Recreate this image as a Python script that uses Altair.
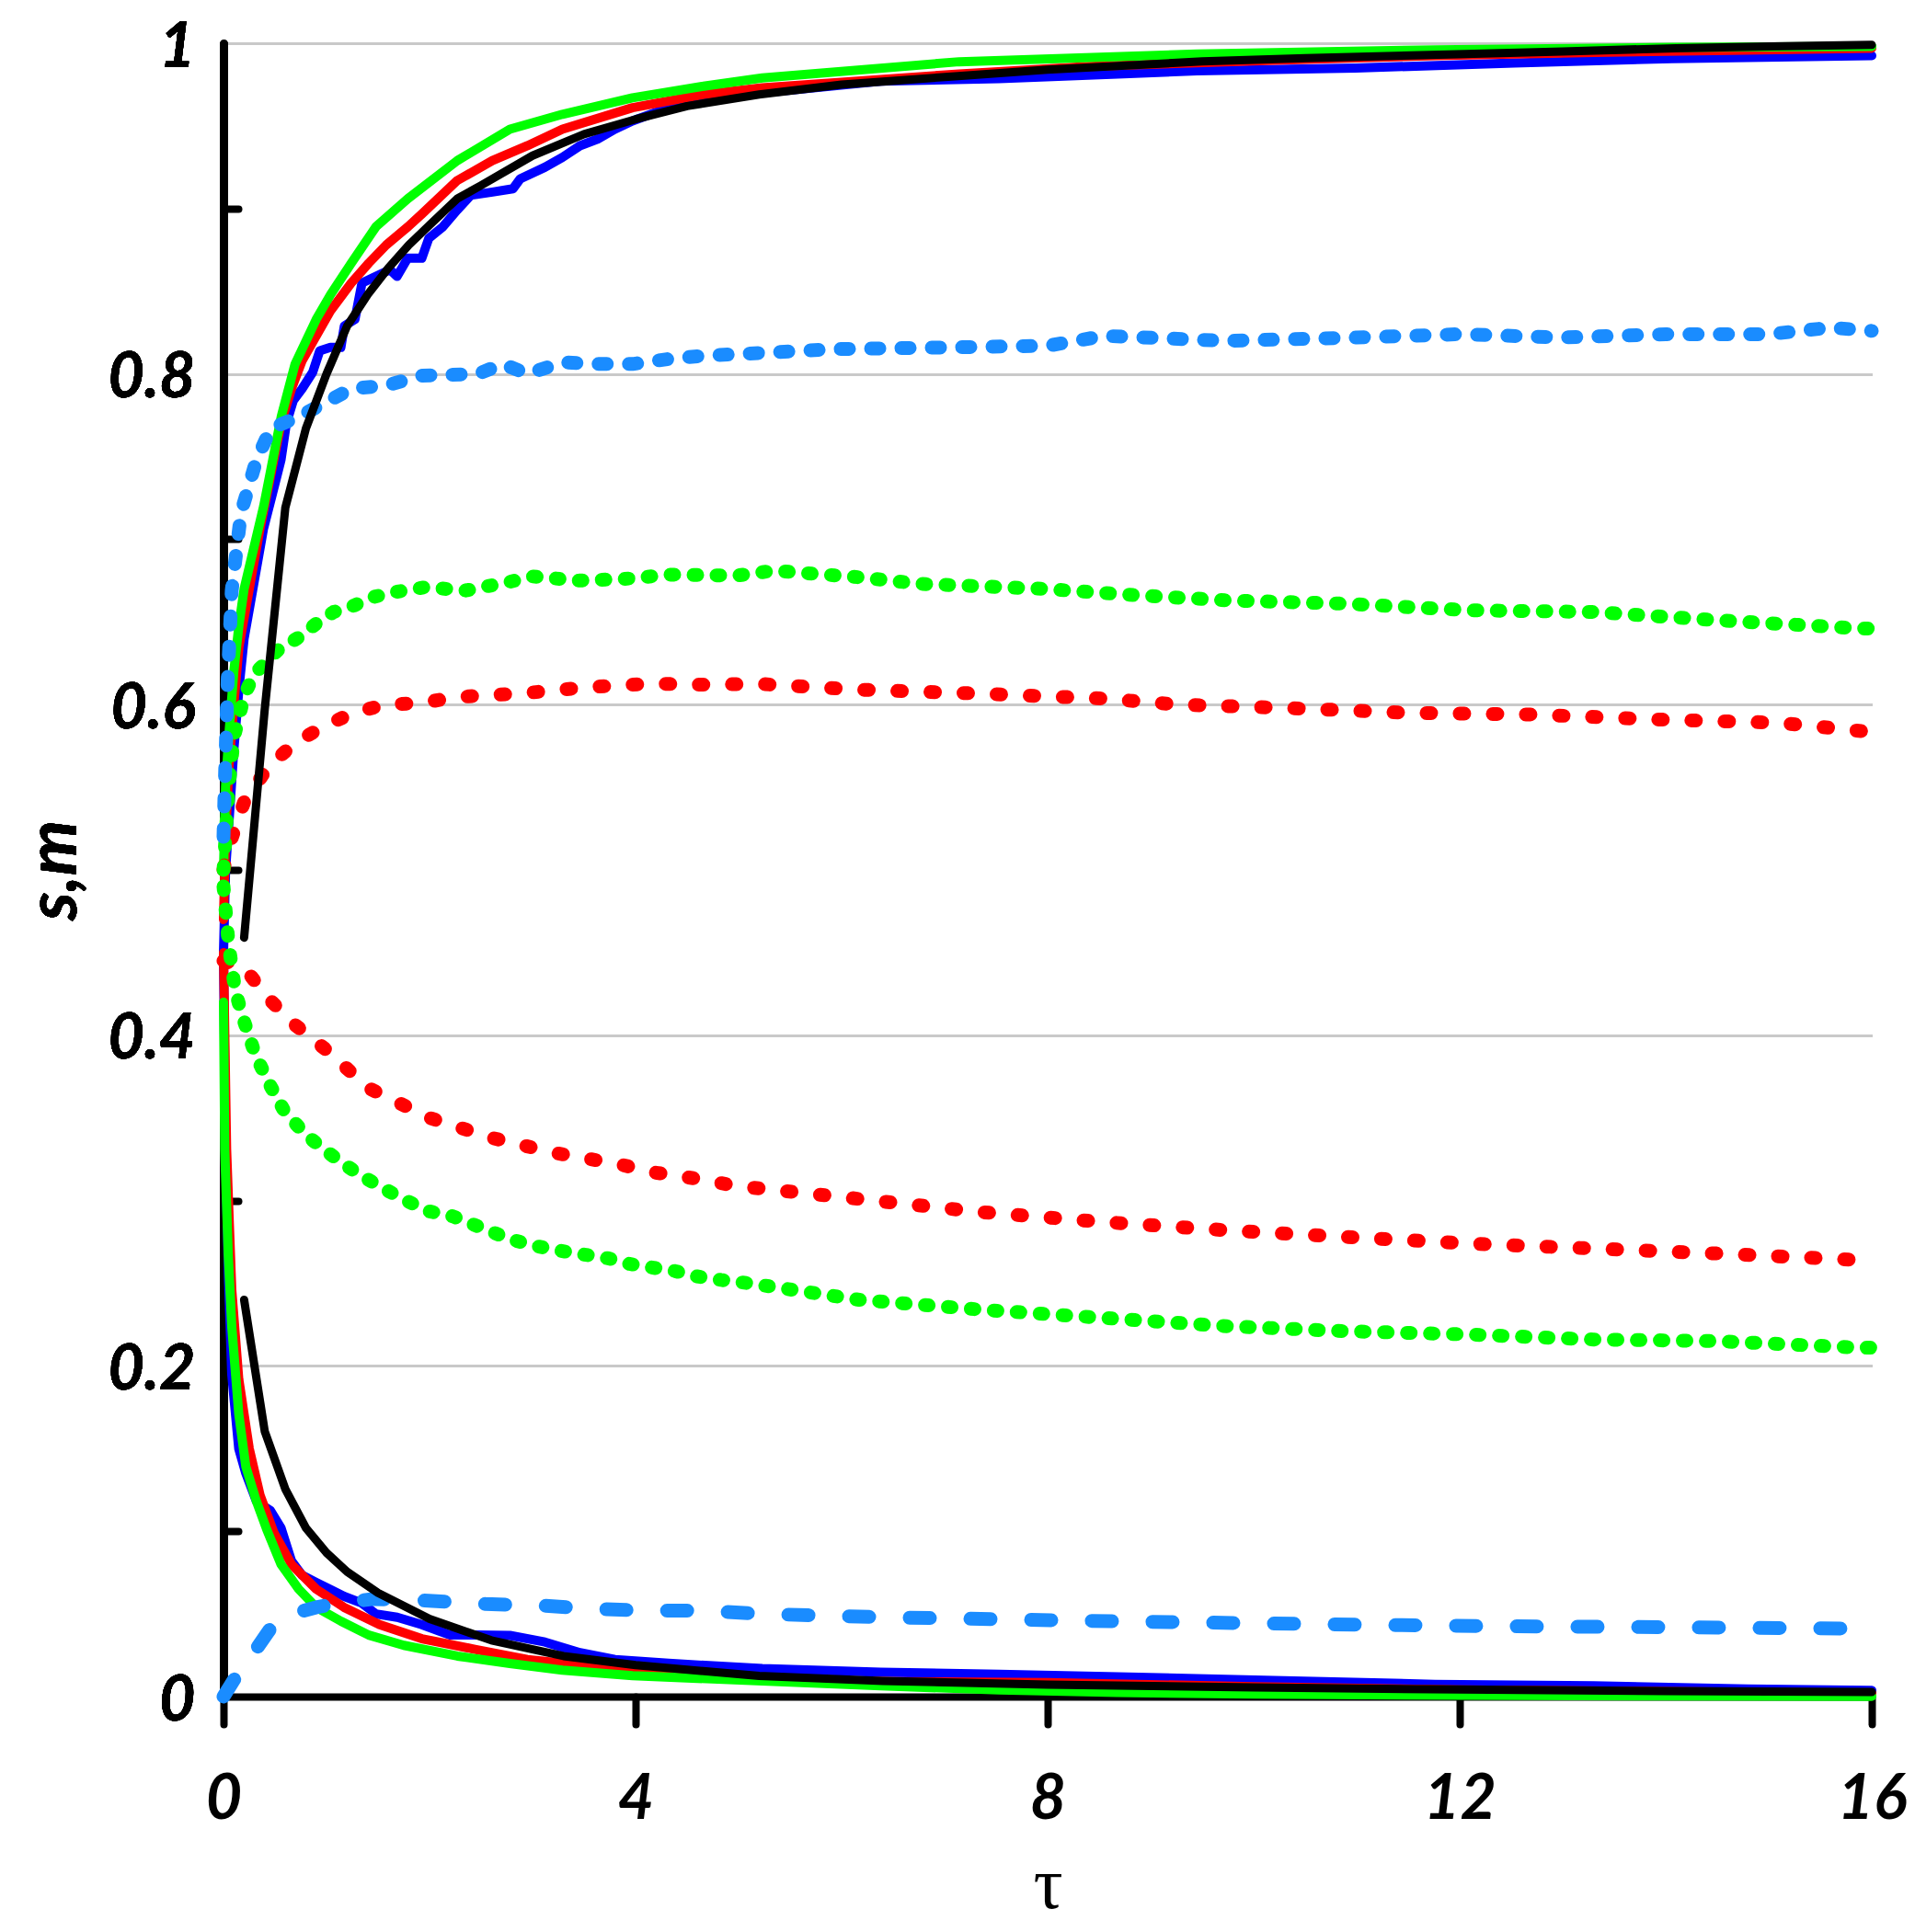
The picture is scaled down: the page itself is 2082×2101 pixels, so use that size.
import altair as alt
import pandas as pd

# ---------------- data ----------------
# black (theory) curve: upper and lower branch
black_up_t = [0.2, 0.4, 0.6, 0.8, 1.0, 1.2, 1.4, 1.6, 1.8, 2.0, 2.27, 2.5, 3.0, 3.5, 4.0, 4.5, 5.2, 6.0, 7.1, 8.0, 9.5, 10.5, 11.8, 13.0, 14.1, 15.0, 16.0]
black_up_v = [0.459, 0.597, 0.719, 0.767, 0.800, 0.829, 0.848, 0.864, 0.878, 0.890, 0.906, 0.914, 0.932, 0.945, 0.954, 0.962, 0.969, 0.975, 0.980, 0.984, 0.989, 0.991, 0.993, 0.995, 0.997, 0.998, 0.999]
black_lo_t = [0.2, 0.4, 0.6, 0.8, 1.0, 1.2, 1.5, 2.0, 2.6, 3.3, 4.0, 5.2, 6.4, 8.0, 10.0, 12.0, 14.0, 16.0]
black_lo_v = [0.240, 0.1605, 0.1255, 0.102, 0.087, 0.0755, 0.0627, 0.047, 0.034, 0.0245, 0.019, 0.0125, 0.0095, 0.0072, 0.0055, 0.0043, 0.0034, 0.0028]

# blue solid
blue_up_t = [0, 0.02, 0.054, 0.098, 0.15, 0.2, 0.285, 0.387, 0.473, 0.558, 0.61, 0.678, 0.763, 0.866, 0.934, 1.037, 1.139, 1.173, 1.276, 1.344, 1.48, 1.617, 1.685, 1.788, 1.925, 1.993, 2.13, 2.267, 2.40, 2.61, 2.81, 2.88, 3.12, 3.29, 3.46, 3.63, 3.80, 3.97, 4.32, 4.66, 5.23, 6.38, 7.53, 8.68, 9.45, 10.99, 12.53, 14.06, 16.0]
blue_up_v = [0.45, 0.50, 0.53, 0.571, 0.61, 0.64, 0.670, 0.706, 0.727, 0.748, 0.770, 0.784, 0.791, 0.801, 0.814, 0.816, 0.816, 0.829, 0.833, 0.855, 0.859, 0.863, 0.859, 0.870, 0.870, 0.882, 0.889, 0.899, 0.908, 0.910, 0.912, 0.918, 0.925, 0.931, 0.938, 0.942, 0.948, 0.953, 0.961, 0.966, 0.970, 0.977, 0.9786, 0.9814, 0.9833, 0.985, 0.988, 0.9907, 0.9925]
blue_lo_t = [0, 0.02, 0.05, 0.08, 0.148, 0.217, 0.32, 0.456, 0.558, 0.66, 0.763, 0.9, 1.037, 1.17, 1.344, 1.48, 1.686, 1.925, 2.2, 2.47, 2.78, 3.12, 3.46, 3.80, 4.32, 5.23, 6.38, 7.53, 8.68, 10.2, 11.76, 13.3, 14.8, 16.0]
blue_lo_v = [0.45, 0.33, 0.25, 0.195, 0.15, 0.135, 0.118, 0.1125, 0.102, 0.082, 0.0734, 0.069, 0.0648, 0.0606, 0.0565, 0.050, 0.048, 0.0435, 0.0372, 0.0372, 0.037, 0.033, 0.0266, 0.0224, 0.0201, 0.017, 0.0148, 0.0135, 0.012, 0.0098, 0.0074, 0.0065, 0.0046, 0.0037]

# red solid
red_up_t = [0, 0.02, 0.05, 0.1, 0.15, 0.25, 0.353, 0.456, 0.558, 0.66, 0.763, 0.90, 1.037, 1.24, 1.41, 1.58, 1.79, 1.93, 2.27, 2.61, 2.95, 3.29, 3.97, 4.66, 5.23, 7.14, 8.4, 10.2, 11.76, 13.3, 16.0]
red_up_v = [0.47, 0.52, 0.56, 0.60, 0.635, 0.67, 0.706, 0.738, 0.770, 0.791, 0.808, 0.823, 0.838, 0.855, 0.867, 0.878, 0.889, 0.897, 0.917, 0.929, 0.938, 0.948, 0.961, 0.969, 0.973, 0.9814, 0.986, 0.9897, 0.9925, 0.9944, 0.997]
red_lo_t = [0, 0.03, 0.08, 0.148, 0.25, 0.354, 0.49, 0.66, 0.9, 1.17, 1.515, 1.925, 2.44, 2.95, 3.63, 4.32, 5.23, 6.5, 8.0, 10.0, 12.0, 14.0, 16.0]
red_lo_v = [0.45, 0.331, 0.246, 0.192, 0.15, 0.122, 0.099, 0.080, 0.065, 0.054, 0.0435, 0.035, 0.0286, 0.0224, 0.018, 0.0138, 0.0106, 0.009, 0.0085, 0.006, 0.004, 0.003, 0.002]

# green solid
green_up_t = [0, 0.02, 0.05, 0.1, 0.15, 0.2, 0.39, 0.56, 0.695, 0.90, 1.04, 1.24, 1.48, 1.79, 2.27, 2.78, 3.29, 3.97, 4.66, 5.23, 7.14, 9.45, 11.76, 14.06, 16.0]
green_up_v = [0.50, 0.55, 0.58, 0.62, 0.648, 0.67, 0.72, 0.774, 0.806, 0.833, 0.848, 0.867, 0.889, 0.906, 0.929, 0.948, 0.957, 0.967, 0.974, 0.979, 0.9888, 0.9934, 0.996, 0.9975, 0.998]
green_lo_t = [0, 0.012, 0.046, 0.08, 0.148, 0.217, 0.32, 0.42, 0.558, 0.73, 0.9, 1.14, 1.41, 1.75, 2.27, 2.78, 3.29, 3.97, 5.23, 6.38, 7.53, 8.68, 10.0, 12.0, 14.0, 16.0]
green_lo_v = [0.42, 0.331, 0.267, 0.224, 0.171, 0.139, 0.118, 0.101, 0.080, 0.065, 0.054, 0.0456, 0.0372, 0.031, 0.0245, 0.020, 0.016, 0.0127, 0.0094, 0.0065, 0.004, 0.0025, 0.0015, 0.0008, 0.0004, 0.0002]

# light blue dashed
lblue_up_t = [0, 0.01, 0.04, 0.08, 0.17, 0.32, 0.46, 0.73, 0.97, 1.24, 1.58, 1.93, 2.47, 2.71, 2.95, 3.29, 3.63, 3.97, 4.32, 4.66, 5.0, 5.93, 7.0, 8.0, 8.55, 9.74, 11.0, 12.0, 13.0, 14.0, 15.0, 15.6, 16.0]
lblue_up_v = [0.52, 0.546, 0.614, 0.669, 0.716, 0.748, 0.767, 0.774, 0.782, 0.791, 0.793, 0.799, 0.800, 0.806, 0.800, 0.807, 0.806, 0.806, 0.809, 0.811, 0.812, 0.815, 0.816, 0.817, 0.823, 0.820, 0.822, 0.824, 0.822, 0.824, 0.824, 0.828, 0.826]
lblue_lo_t = [0, 0.1, 0.22, 0.46, 0.66, 0.9, 1.07, 1.45, 1.99, 2.54, 3.09, 3.63, 4.07, 4.66, 5.23, 6.4, 8.7, 11.0, 12.5, 14.0, 16.0]
lblue_lo_v = [0.0, 0.01, 0.02, 0.0415, 0.05, 0.054, 0.056, 0.059, 0.058, 0.056, 0.055, 0.053, 0.052, 0.052, 0.050, 0.048, 0.0455, 0.0435, 0.0425, 0.042, 0.041]

# red dotted
rdot_up_t = [0, 0.05, 0.2, 0.44, 0.71, 0.98, 1.24, 1.57, 1.93, 2.11, 2.38, 2.67, 2.94, 3.27, 3.54, 3.83, 4.19, 4.6, 5.2, 6.17, 7.36, 8.55, 9.27, 10.3, 11.5, 12.7, 13.9, 15.1, 15.9, 16.0]
rdot_up_v = [0.50, 0.514, 0.541, 0.563, 0.5775, 0.587, 0.5945, 0.600, 0.601, 0.603, 0.605, 0.606, 0.607, 0.609, 0.6105, 0.6116, 0.6127, 0.612, 0.6125, 0.609, 0.6066, 0.6036, 0.600, 0.598, 0.595, 0.594, 0.591, 0.589, 0.584, 0.584]
rdot_lo_t = [0, 0.2, 0.44, 0.68, 0.98, 1.41, 2.0, 2.6, 3.2, 3.84, 4.18, 4.62, 4.96, 6.17, 7.36, 8.55, 9.75, 10.9, 12.1, 13.3, 14.5, 15.9, 16.0]
rdot_lo_v = [0.445, 0.441, 0.422, 0.407, 0.392, 0.368, 0.350, 0.338, 0.329, 0.322, 0.317, 0.313, 0.309, 0.301, 0.293, 0.287, 0.282, 0.278, 0.274, 0.271, 0.268, 0.264, 0.263]

# green dotted
gdot_up_t = [0, 0.05, 0.1, 0.2, 0.29, 0.53, 0.74, 0.92, 1.07, 1.27, 1.45, 1.66, 1.96, 2.35, 2.76, 3.0, 3.45, 3.89, 4.34, 4.98, 5.34, 6.17, 6.77, 7.96, 8.9, 9.75, 10.9, 12.1, 13.3, 14.5, 15.9, 16.0]
gdot_up_v = [0.50, 0.55, 0.58, 0.605, 0.618, 0.633, 0.641, 0.650, 0.656, 0.660, 0.665, 0.668, 0.671, 0.669, 0.674, 0.6775, 0.675, 0.676, 0.6786, 0.678, 0.681, 0.677, 0.673, 0.670, 0.666, 0.663, 0.661, 0.657, 0.656, 0.651, 0.646, 0.646]
gdot_lo_t = [0, 0.05, 0.11, 0.17, 0.31, 0.45, 0.6, 0.8, 0.97, 1.31, 1.55, 1.74, 1.99, 2.23, 2.57, 2.78, 3.05, 3.33, 3.74, 3.94, 4.15, 4.38, 4.59, 4.83, 5.1, 6.17, 7.36, 8.55, 9.75, 10.9, 12.1, 13.3, 14.5, 15.9, 16.0]
gdot_lo_v = [0.49, 0.455, 0.4285, 0.414, 0.388, 0.37, 0.353, 0.34, 0.331, 0.316, 0.3075, 0.301, 0.2936, 0.2904, 0.282, 0.2766, 0.2723, 0.269, 0.265, 0.2617, 0.2596, 0.2574, 0.2542, 0.252, 0.250, 0.240, 0.234, 0.229, 0.224, 0.221, 0.219, 0.216, 0.215, 0.211, 0.211]

x_ticks = [0, 4, 8, 12, 16]
y_ticks = [0, 0.2, 0.4, 0.6, 0.8, 1.0]
y_minor = [0.1, 0.3, 0.5, 0.7, 0.9]


def frame(*branches):
    rows = []
    for name, ts, vs in branches:
        for t, v in zip(ts, vs):
            rows.append({"t": t, "v": v, "branch": name})
    return pd.DataFrame(rows)


W, H = 1792, 1798
LABEL_FONT = "Lato"

x_scale = alt.Scale(domain=[0, 16], nice=False, zero=False)
y_scale = alt.Scale(domain=[0, 1], nice=False, zero=False)


def x_axis():
    return alt.Axis(
        values=x_ticks, format="d", grid=False,
        domainColor="black", domainWidth=8,
        tickColor="black", tickWidth=8, tickSize=30, tickCap="round",
        labelFont=LABEL_FONT, labelFontSize=68, labelFontWeight="bold", labelFontStyle="italic",
        labelColor="black", labelPadding=102, labelBaseline="alphabetic", labelFlush=False,
        labelOverlap=False,
        title="τ", titleFont="Liberation Serif", titleFontSize=80, titleFontWeight="normal",
        titleColor="black", titleY=229, titleBaseline="alphabetic",
    )


def y_axis():
    return alt.Axis(
        orient="left",
        values=y_ticks, format="~g", grid=True, gridColor="#c9c9c9", gridWidth=3,
        ticks=False, tickSize=0,
        domainColor="black", domainWidth=8, domainCap="round",
        labelFont=LABEL_FONT, labelFontSize=68, labelFontWeight="bold", labelFontStyle="italic",
        labelColor="black", labelPadding=31, labelBaseline="middle", labelOffset=5,
        labelFlush=False, labelOverlap=False,
        title="s,m", titleFont=LABEL_FONT, titleFontSize=76, titleFontWeight="bold",
        titleFontStyle="italic", titleColor="black", titleAngle=270, titleAlign="center",
        titleBaseline="alphabetic", titleX=-161, titleY=H / 2,
    )


minor_axis = alt.Axis(
    orient="right", offset=-W, values=y_minor, labels=False, domain=False, grid=False,
    ticks=True, tickColor="black", tickWidth=8, tickSize=16, tickCap="round", title="",
)


def line_layer(df, color, width, dash=None, yaxis=None):
    kw = dict(color=color, strokeWidth=width, strokeCap="round", strokeJoin="round")
    if dash is not None:
        kw["strokeDash"] = dash
    return alt.Chart(df).mark_line(**kw).encode(
        x=alt.X("t:Q", scale=x_scale, axis=x_axis()),
        y=alt.Y("v:Q", scale=y_scale, axis=yaxis if yaxis is not None else y_axis()),
        detail="branch:N",
    )


BLUE, RED, GREEN, LBLUE = "#0000ff", "#ff0000", "#00ff00", "#1a8cff"

layers = [
    line_layer(frame(("u", blue_up_t, blue_up_v), ("l", blue_lo_t, blue_lo_v)), BLUE, 10),
    line_layer(frame(("u", red_up_t, red_up_v), ("l", red_lo_t, red_lo_v)), RED, 10),
    line_layer(frame(("u", green_up_t, green_up_v), ("l", green_lo_t, green_lo_v)), GREEN, 10),
    line_layer(frame(("u", rdot_up_t, rdot_up_v), ("l", rdot_lo_t, rdot_lo_v)), RED, 15, dash=[5, 31]),
    line_layer(frame(("u", gdot_up_t, gdot_up_v), ("l", gdot_lo_t, gdot_lo_v)), GREEN, 15, dash=[4, 21]),
    line_layer(frame(("u", lblue_up_t, lblue_up_v)), LBLUE, 15, dash=[9, 24]),
    line_layer(frame(("l", lblue_lo_t, lblue_lo_v)), LBLUE, 15, dash=[22, 44]),
    line_layer(frame(("u", black_up_t, black_up_v), ("l", black_lo_t, black_lo_v)), "black", 9,
               yaxis=minor_axis),
]

chart = alt.layer(*layers).properties(
    width=W, height=H,
    autosize=alt.AutoSizeParams(type="none"),
    padding={"left": 235, "top": 39, "right": 38, "bottom": 256},
    background="white",
).configure_view(stroke="transparent")

chart.save("out.html", embed_options={"renderer": "svg", "actions": False})
